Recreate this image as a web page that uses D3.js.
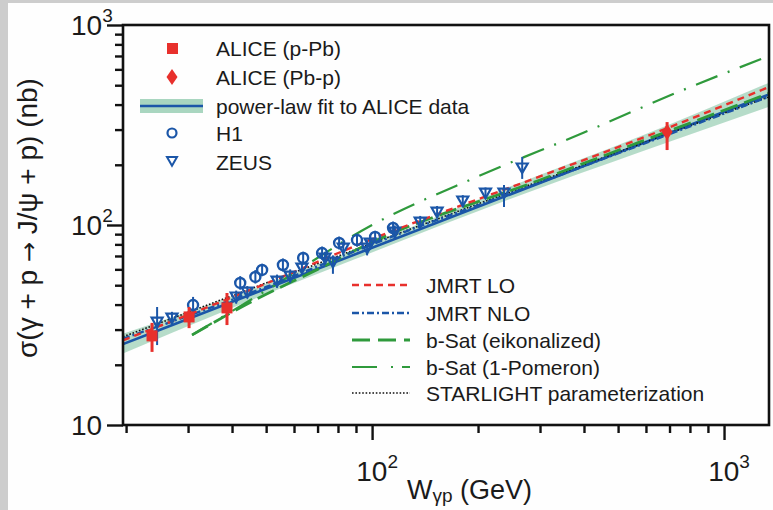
<!DOCTYPE html>
<html>
<head>
<meta charset="utf-8">
<script src="https://cdn.jsdelivr.net/npm/d3@7/dist/d3.min.js"></script>
<style>
  html, body { margin: 0; padding: 0; background: #cdcdcd; }
  svg { display: block; }
  text { font-family: "Liberation Sans", Arial, sans-serif; fill: #1a1a1a; }
</style>
</head>
<body>
<svg id="chart" width="773" height="510"></svg>
<script>
// J/psi photoproduction cross section vs W(gamma p)

// ALICE p-Pb (W in GeV, sigma in nb, error bar low/high)
const alicePPbW   = [23.7, 30.2, 38.7];
const alicePPbSig = [27.9, 34.7, 38.5];
const alicePPbLo  = [23.2, 30.5, 31.6];
const alicePPbHi  = [32.4, 38.9, 45.7];

// ALICE Pb-p
const alicePbPW   = [689];
const alicePbPSig = [292];
const alicePbPLo  = [237];
const alicePbPHi  = [327];

// H1
const h1W   = [31.0, 42.2, 46.6, 48.7, 55.8, 63.7, 72.1, 80.6, 90.6, 102, 114.7];
const h1Sig = [39.8, 51.3, 55.0, 59.6, 63.1, 68.4, 72.4, 81.3, 84.1, 87.1, 96.6];
const h1Lo  = [36.7, 47.5, 51.0, 55.5, 58.5, 63.5, 67.0, 75.5, 78.0, 81.0, 89.5];
const h1Hi  = [43.7, 55.5, 59.5, 64.0, 68.0, 73.5, 78.0, 87.5, 90.5, 93.5, 104];

// ZEUS
const zeusW   = [24.5, 27.0, 41.1, 44.2, 53.7, 58.5, 63.2, 73.5, 77.4, 82.8, 96.8, 98.7, 116, 137, 153, 181, 210, 237, 267];
const zeusSig = [32.7, 34.3, 43.7, 46.2, 52.5, 55.6, 61.0, 68.4, 65.3, 76.7, 76.7, 81.3, 92.3, 103.5, 116, 132, 144.5, 144.5, 193];
const zeusLo  = [25.1, 32.0, 40.5, 43.0, 48.5, 51.5, 56.5, 63.5, 57.0, 71.0, 70.5, 75.5, 85.5, 96.0, 108, 123, 135, 123, 170];
const zeusHi  = [38.9, 36.8, 47.0, 49.5, 56.5, 60.0, 65.5, 73.5, 70.5, 82.5, 84.0, 87.5, 99.5, 111, 124.5, 141, 154, 158.5, 219];

// power-law fit to ALICE data with uncertainty band
const fitW     = [19.6, 90, 1342];
const fitSig   = [25.4, 71.6, 450];
const bandW    = [19.6, 40, 90, 250, 600, 1342];
const bandLow  = [22.8, 38.5, 67.8, 136, 237, 390];
const bandHigh = [28.6, 44.0, 75.6, 157, 285, 515];

// model curves
const jmrtLoW    = [19.6, 50, 100, 300, 700, 1342];
const jmrtLoSig  = [26.5, 51, 85, 175, 308, 490];
const jmrtNloW   = [19.6, 50, 100, 300, 700, 1342];
const jmrtNloSig = [27.0, 49, 80, 163, 285, 438];
const bsatEikW   = [30.8, 45, 70, 100, 300, 700, 1342];
const bsatEikSig = [28.2, 41, 60, 82, 168, 296, 455];
const bsat1PW    = [30.8, 50, 100, 200, 400, 740, 1342];
const bsat1PSig  = [28.2, 47, 100, 175, 290, 462, 700];
const starlightW   = [19.6, 100, 300, 1342];
const starlightSig = [27.6, 81, 166, 438];

// axis ticks
const xMajorTicks = [100, 1000];
const xMinorTicks = [20, 30, 40, 50, 60, 70, 80, 90, 200, 300, 400, 500, 600, 700, 800, 900];
const xTickLabels = [["10", "2"], ["10", "3"]];
const yMajorTicks = [10, 100, 1000];
const yMinorTicks = [20, 30, 40, 50, 60, 70, 80, 90, 200, 300, 400, 500, 600, 700, 800, 900];
const yTickLabels = [["10", ""], ["10", "2"], ["10", "3"]];

const RED = "#e8302c", BLUE = "#1b56a8", GREEN = "#2f9a3c", BAND = "#a9d6c0";

const svg = d3.select("#chart");
// white figure area inside the grey border
svg.append("rect").attr("x", 8).attr("y", 3).attr("width", 765).attr("height", 507).attr("fill", "#fefefe");

const L = 123, R = 769, T = 25, B = 425;
const x = d3.scaleLog().domain([19.6, 1342]).range([L, R]);
const y = d3.scaleLog().domain([10, 1000]).range([B, T]);

svg.append("clipPath").attr("id", "plotclip")
  .append("rect").attr("x", L).attr("y", T).attr("width", R - L).attr("height", B - T);
const plot = svg.append("g").attr("clip-path", "url(#plotclip)");

const zip = (a, b) => a.map((v, i) => [v, b[i]]);
const line = d3.line().x(d => x(d[0])).y(d => y(d[1])).curve(d3.curveMonotoneX);

// uncertainty band
const area = d3.area()
  .x(d => x(d[0])).y0(d => y(d[1])).y1(d => y(d[2]))
  .curve(d3.curveMonotoneX);
plot.append("path")
  .datum(bandW.map((w, i) => [w, bandLow[i], bandHigh[i]]))
  .attr("d", area).attr("fill", BAND).attr("opacity", 0.85);

// fit line
plot.append("path").datum(zip(fitW, fitSig)).attr("d", line)
  .attr("fill", "none").attr("stroke", BLUE).attr("stroke-width", 2.6);

// model curves
const models = [
  { w: starlightW, s: starlightSig, color: "#111", width: 1.6, dash: "1.6,1.8" },
  { w: bsatEikW, s: bsatEikSig, color: GREEN, width: 2.8, dash: "18,7" },
  { w: bsat1PW, s: bsat1PSig, color: GREEN, width: 2.2, dash: "23,11,2,11" },
  { w: jmrtNloW, s: jmrtNloSig, color: BLUE, width: 2.4, dash: "7,3,2,3" },
  { w: jmrtLoW, s: jmrtLoSig, color: RED, width: 2.4, dash: "7,5" }
];
models.forEach(m => {
  plot.append("path").datum(zip(m.w, m.s)).attr("d", line)
    .attr("fill", "none").attr("stroke", m.color)
    .attr("stroke-width", m.width).attr("stroke-dasharray", m.dash);
});

// markers
const triPath = (cx, cy, s) => `M${cx - s},${cy - s * 0.8}L${cx + s},${cy - s * 0.8}L${cx},${cy + s * 0.95}Z`;

function errorBars(g, W, lo, hi, color, width) {
  g.selectAll(null).data(W.map((w, i) => [w, lo[i], hi[i]])).join("line")
    .attr("x1", d => x(d[0])).attr("x2", d => x(d[0]))
    .attr("y1", d => y(d[1])).attr("y2", d => y(d[2]))
    .attr("stroke", color).attr("stroke-width", width);
}

const pts = svg.append("g");
errorBars(pts, zeusW, zeusLo, zeusHi, BLUE, 2);
errorBars(pts, h1W, h1Lo, h1Hi, BLUE, 2);
pts.selectAll(null).data(zip(zeusW, zeusSig)).join("path")
  .attr("d", d => triPath(x(d[0]), y(d[1]), 5.5))
  .attr("fill", "none").attr("stroke", BLUE).attr("stroke-width", 2.2);
pts.selectAll(null).data(zip(h1W, h1Sig)).join("circle")
  .attr("cx", d => x(d[0])).attr("cy", d => y(d[1])).attr("r", 5)
  .attr("fill", "none").attr("stroke", BLUE).attr("stroke-width", 2.4);

errorBars(pts, alicePPbW, alicePPbLo, alicePPbHi, RED, 3);
pts.selectAll(null).data(zip(alicePPbW, alicePPbSig)).join("rect")
  .attr("x", d => x(d[0]) - 5.5).attr("y", d => y(d[1]) - 5.5)
  .attr("width", 11).attr("height", 11).attr("fill", RED);
errorBars(pts, alicePbPW, alicePbPLo, alicePbPHi, RED, 3);
pts.selectAll(null).data(zip(alicePbPW, alicePbPSig)).join("path")
  .attr("d", d => { const cx = x(d[0]), cy = y(d[1]); return `M${cx},${cy - 8}L${cx + 5.5},${cy}L${cx},${cy + 8}L${cx - 5.5},${cy}Z`; })
  .attr("fill", RED);

// axes
const ax = svg.append("g");
ax.append("g").attr("transform", `translate(0,${B})`)
  .call(d3.axisBottom(x).tickValues(xMinorTicks).tickSize(8).tickFormat(() => ""));
ax.append("g").attr("transform", `translate(0,${B})`)
  .call(d3.axisBottom(x).tickValues(xMajorTicks).tickSize(15).tickFormat(() => ""));
ax.append("g").attr("transform", `translate(${L},0)`)
  .call(d3.axisLeft(y).tickValues(yMinorTicks).tickSize(8).tickFormat(() => ""));
ax.append("g").attr("transform", `translate(${L},0)`)
  .call(d3.axisLeft(y).tickValues(yMajorTicks).tickSize(16).tickFormat(() => ""));
ax.selectAll(".domain").remove();
ax.selectAll(".tick line").attr("stroke", "#111").attr("stroke-width", 2.4);

// frame
svg.append("rect").attr("x", L).attr("y", T).attr("width", R - L).attr("height", B - T)
  .attr("fill", "none").attr("stroke", "#111").attr("stroke-width", 2.6);

// tick labels
xMajorTicks.forEach((v, i) => {
  const t = svg.append("text").attr("x", x(v) + 5).attr("y", 481)
    .attr("text-anchor", "middle").style("font-size", "28px");
  t.append("tspan").text(xTickLabels[i][0]);
  t.append("tspan").attr("dy", -13).style("font-size", "19px").text(xTickLabels[i][1]);
});
yMajorTicks.forEach((v, i) => {
  const t = svg.append("text").attr("x", 71).attr("y", y(v) + 10)
    .style("font-size", "28px");
  t.append("tspan").text(yTickLabels[i][0]);
  if (yTickLabels[i][1]) t.append("tspan").attr("dy", -13).style("font-size", "19px").text(yTickLabels[i][1]);
});

// axis titles
const xt = svg.append("text").attr("x", 407).attr("y", 499).style("font-size", "27px");
xt.append("tspan").text("W");
xt.append("tspan").attr("dy", 3).style("font-size", "19px").text("γp");
xt.append("tspan").attr("dy", -3).text(" (GeV)");

const yt = svg.append("text")
  .attr("transform", "translate(37,218) rotate(-90)")
  .attr("text-anchor", "middle").style("font-size", "28px");
yt.append("tspan").text("σ(γ + p ");
yt.append("tspan").style("font-family", "'DejaVu Sans', sans-serif").style("font-size", "24px").text("→");
yt.append("tspan").text(" J/ψ + p) (nb)");

// legend: data
const lg1 = svg.append("g");
const rows1 = [
  { y: 48, label: "ALICE (p-Pb)" },
  { y: 77, label: "ALICE (Pb-p)" },
  { y: 106, label: "power-law fit to ALICE data" },
  { y: 133, label: "H1" },
  { y: 162, label: "ZEUS" }
];
lg1.append("rect").attr("x", 167).attr("y", 43).attr("width", 11).attr("height", 11).attr("fill", RED);
lg1.append("path").attr("d", "M172,69L177.5,77L172,85L166.5,77Z").attr("fill", RED);
lg1.append("rect").attr("x", 140).attr("y", 99).attr("width", 63).attr("height", 14).attr("fill", BAND);
lg1.append("line").attr("x1", 140).attr("x2", 203).attr("y1", 106).attr("y2", 106)
  .attr("stroke", BLUE).attr("stroke-width", 2.6);
lg1.append("circle").attr("cx", 172).attr("cy", 133).attr("r", 4.5)
  .attr("fill", "none").attr("stroke", BLUE).attr("stroke-width", 2.2);
lg1.append("path").attr("d", triPath(172, 161, 5)).attr("fill", "none")
  .attr("stroke", BLUE).attr("stroke-width", 2);
rows1.forEach(r => lg1.append("text").attr("x", 216).attr("y", r.y + 7.5)
  .style("font-size", "21px").text(r.label));

// legend: models
const lg2 = svg.append("g");
const rows2 = [
  { y: 285, label: "JMRT LO", color: RED, width: 2.4, dash: "7,5" },
  { y: 313, label: "JMRT NLO", color: BLUE, width: 2.4, dash: "7,3,2,3" },
  { y: 340, label: "b-Sat (eikonalized)", color: GREEN, width: 3, dash: "18,8" },
  { y: 367, label: "b-Sat (1-Pomeron)", color: GREEN, width: 2.2, dash: "25,14,2,9" },
  { y: 393, label: "STARLIGHT parameterization", color: "#111", width: 1.6, dash: "1.6,1.8" }
];
rows2.forEach(r => {
  lg2.append("line").attr("x1", 352).attr("x2", 410).attr("y1", r.y).attr("y2", r.y)
    .attr("stroke", r.color).attr("stroke-width", r.width).attr("stroke-dasharray", r.dash);
  lg2.append("text").attr("x", 426).attr("y", r.y + 7.5).style("font-size", "21px").text(r.label);
});
</script>
</body>
</html>
